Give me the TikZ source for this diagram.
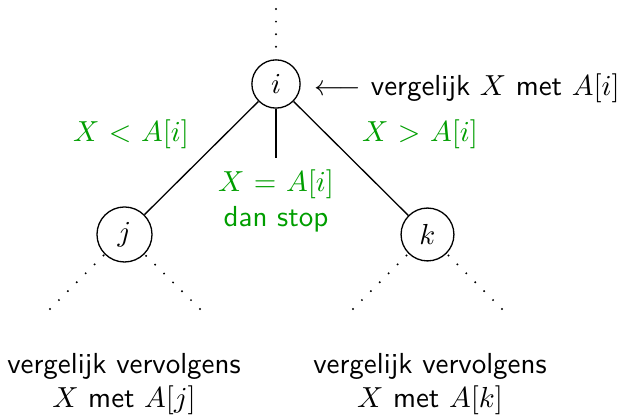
\documentclass[tikz,border=0pt]{standalone}
\usepackage{fontspec}
\begin{document}
\begin{tikzpicture}[x=0.345pt,y=-0.345pt,
  every node/.style={font=\sffamily},
  vert/.style={circle,draw,line width=0.45pt},
  dotline/.style={line width=0.75pt,line cap=round,dash pattern=on 0pt off 4.35pt},
  cond/.style={text=green!62!black,inner sep=0pt},
  plain/.style={line width=0.45pt}]
\useasboundingbox (0,0) rectangle (621,416);
\node[vert] (i) at (276,84) {$i$};
\node[vert] (j) at (124.5,234.5) {$j$};
\node[vert] (k) at (427.5,234.5) {$k$};
\coordinate (top) at (276,9);
\coordinate (topend) at (276,50);
\coordinate (mid) at (276,158);
\coordinate (jl) at (50,309);
\coordinate (jr) at (200,309);
\coordinate (kl) at (353,309);
\coordinate (kr) at (502,309);
\draw[dotline] (top) -- (topend);
\draw[plain] (i) -- (j);
\draw[plain] (i) -- (k);
\draw[plain] (i) -- (mid);
\draw[dotline] (jl) -- (j);
\draw[dotline] (jr) -- (j);
\draw[dotline] (kl) -- (k);
\draw[dotline] (kr) -- (k);
\node[anchor=base west,inner sep=0pt] (cmp) at (314,96) {$\longleftarrow$ vergelijk $X$ met $A[i]$};
\node[cond,anchor=base] (lt) at (131,142) {$X$ < $A[i]$};
\node[cond,anchor=base] (gt) at (420,142) {$X$ > $A[i]$};
\node[cond,align=center] (eq) at (276,201) {$X$ = $A[i]$\\dan stop};
\node[align=center,inner sep=0pt] (nj) at (124,384) {vergelijk vervolgens\\$X$ met $A[j]$};
\node[align=center,inner sep=0pt] (nk) at (430,384) {vergelijk vervolgens\\$X$ met $A[k]$};
\end{tikzpicture}
\end{document}
